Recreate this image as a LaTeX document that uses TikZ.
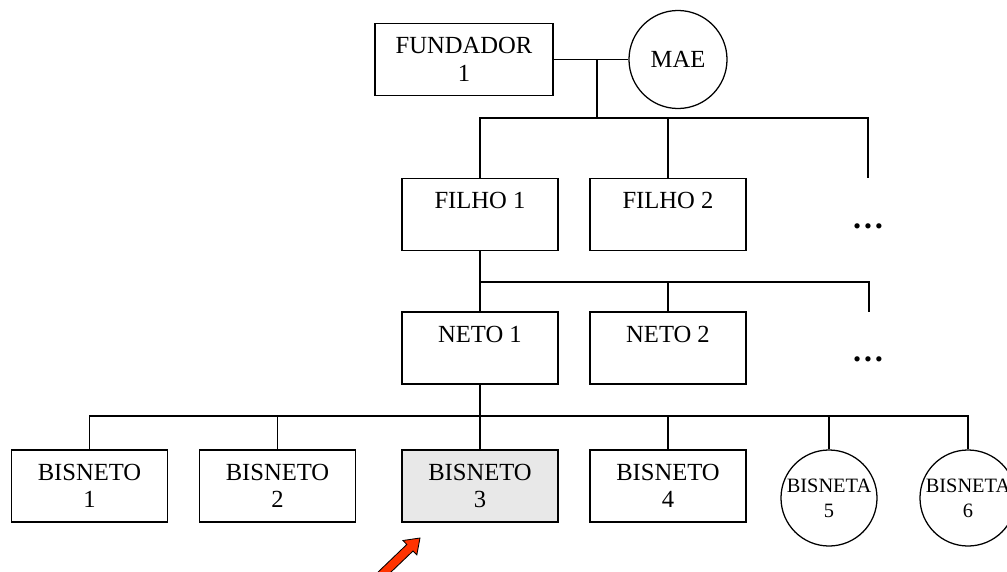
\documentclass[tikz,border=0pt]{standalone}
\usepackage{fontspec}
\setmainfont{Liberation Serif}
\usepackage{tikz}
\usetikzlibrary{calc}

\definecolor{shade}{HTML}{E8E8E8}
\definecolor{pointer}{HTML}{FF3300}

\tikzset{
  box/.style={draw, rectangle, line width=0.9pt, minimum width=3.9cm, minimum height=1.8cm,
    inner sep=0pt, align=center, font=\fontsize{17.5}{19.5}\selectfont},
  ring/.style={draw, circle, line width=0.9pt, minimum size=2.4cm, inner sep=0pt,
    align=center, font=\fontsize{17.5}{19.5}\selectfont},
  smallring/.style={ring, font=\fontsize{14.5}{18}\selectfont},
  more/.style={font=\fontsize{23}{23}\selectfont\bfseries},
  link/.style={line width=0.9pt},
  boldlink/.style={line width=1.3pt}
}

\begin{document}
\begin{tikzpicture}[x=0.025cm,y=-0.025cm]
\useasboundingbox (0,0) rectangle (1007,572);

% top couple
\node[box, minimum width=4.45cm] (fund) at (464,59.5) {FUNDADOR\\1};
\node[ring, minimum size=2.45cm] (mae) at (678,59.5) {MAE};

% children
\node[box] (filho1) at (480,214.5) {FILHO 1\\~};
\node[box] (filho2) at (668,214.5) {FILHO 2\\~};
\node[more] (more1) at (868,226) {…};

% grandchildren
\node[box] (neto1) at (480,348) {NETO 1\\~};
\node[box] (neto2) at (668,348) {NETO 2\\~};
\node[more] (more2) at (868,359) {…};

% great-grandchildren
\node[box] (bis1) at (89.5,486) {BISNETO\\1};
\node[box] (bis2) at (277.5,486) {BISNETO\\2};
\node[box, fill=shade] (bis3) at (480,486) {BISNETO\\3};
\node[box] (bis4) at (668,486) {BISNETO\\4};
\node[smallring] (bis5) at (829,498) {BISNETA\\5};
\node[smallring] (bis6) at (968,498) {BISNETA\\6};

% junction points
\coordinate (tie) at (597,59.5);
\coordinate (bar1) at (868,118);
\coordinate (end1) at (868,178);
\coordinate (bar2) at (869,282);
\coordinate (end2) at (869,312);
\coordinate (bar3) at (968,416);

% lines
\draw[link] (fund.east) -- (mae.west);
\draw[boldlink] (tie) -- (tie |- bar1);
\draw[link] (filho1.north) |- (bar1) -- (end1);
\draw[link] (filho2.north) -- (filho2.north |- bar1);

\draw[boldlink] (filho1.south) -- (neto1.north);
\draw[link] (filho1.south |- bar2) -- (bar2) -- (end2);
\draw[link] (neto2.north) -- (neto2.north |- bar2);

\draw[boldlink] (neto1.south) -- (neto1.south |- bar3);
\draw[link] (bis1.north) |- (bar3) -- (bis6.north);
\draw[boldlink] (bis2.north |- bar3) -- (bis5.north |- bar3);
\foreach \k in {bis2,bis3,bis4,bis5}
  \draw[link] (\k.north) -- (\k.north |- bar3);

% pointer arrow
\begin{scope}
\clip (0,0) rectangle (1007,572);
\filldraw[fill=pointer, draw=black, line width=0.6pt, line join=miter]
  (420,538) -- (416.8,554.9) -- (413,551) -- (376.9,585.5)
  -- (370.7,579.1) -- (406.8,544.5) -- (403,540.5) -- cycle;
\end{scope}

\end{tikzpicture}
\end{document}
